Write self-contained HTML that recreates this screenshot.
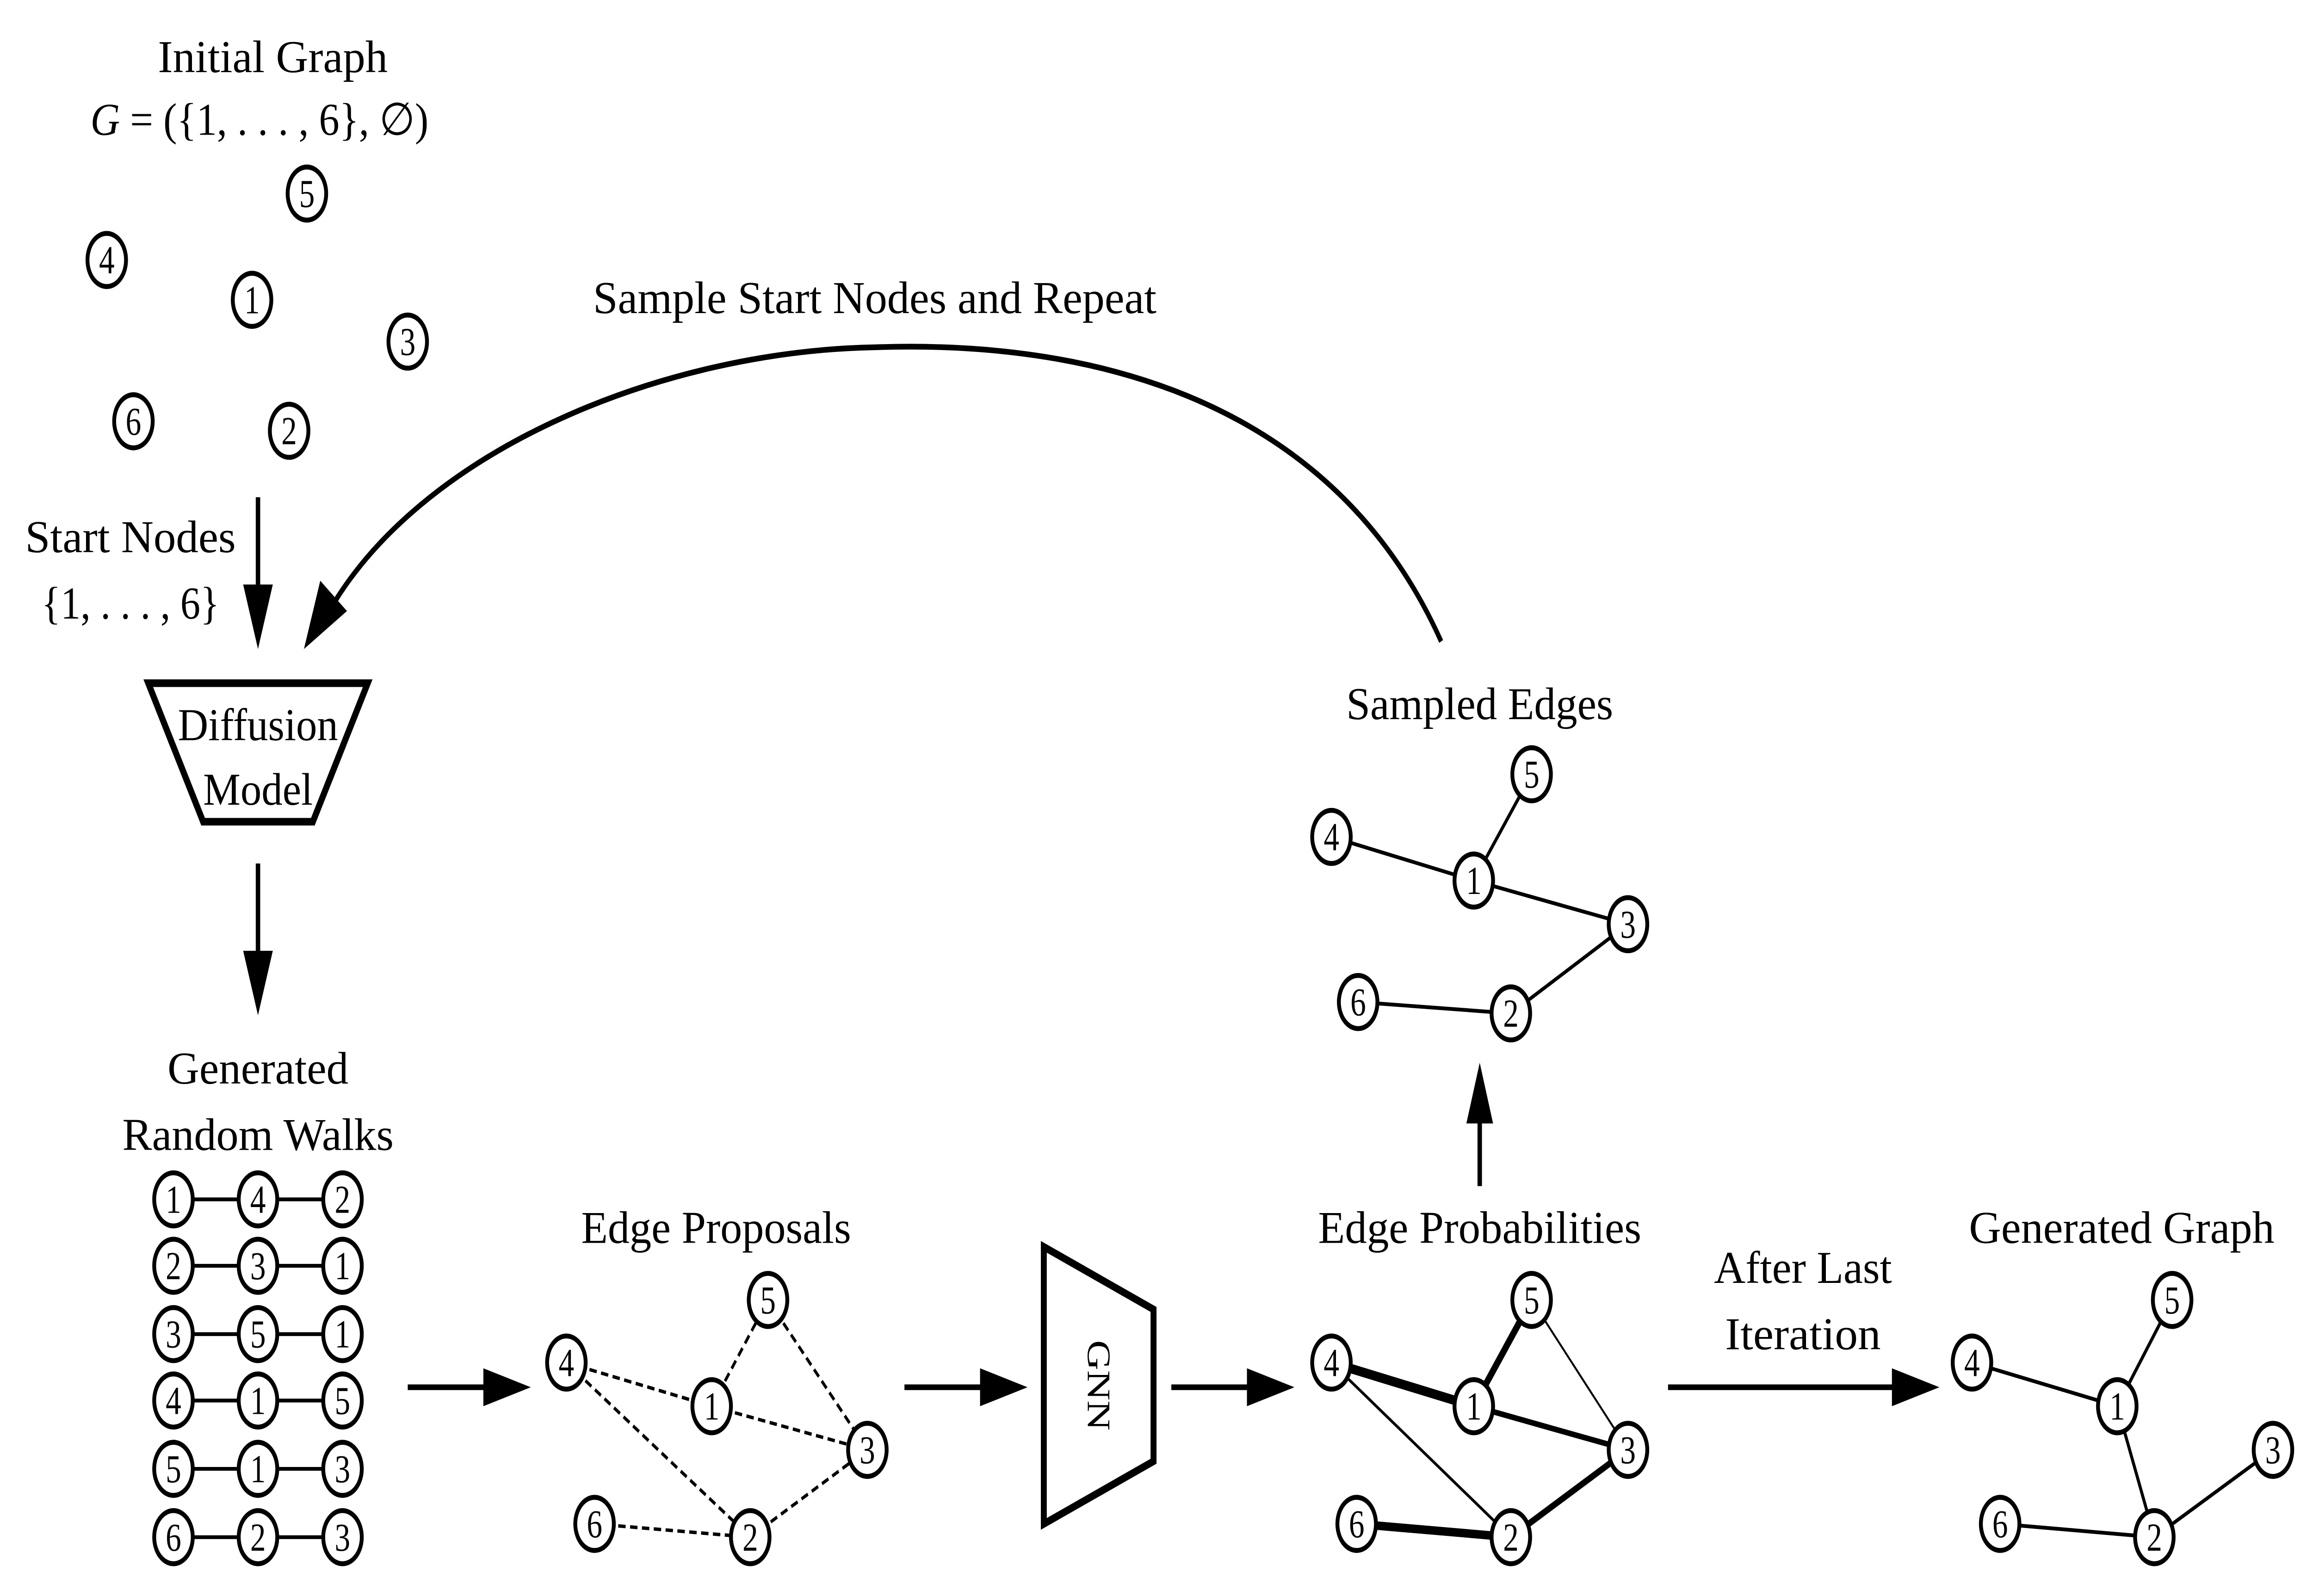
<!DOCTYPE html>
<html><head><meta charset="utf-8"><style>html,body{margin:0;padding:0;background:#fff;width:100%;height:100%;overflow:hidden}svg{display:block;width:100vw;height:100vh}</style></head>
<body>
<svg viewBox="0 0 1560 841" preserveAspectRatio="none" xmlns="http://www.w3.org/2000/svg" font-family="Liberation Serif, serif">
<style>
.n ellipse{fill:#fff;stroke:#000;stroke-width:2.6}
.n text{font-size:21px;text-anchor:middle;dominant-baseline:central}
.t{font-size:24px;text-anchor:middle}
.e{stroke:#000;stroke-width:2;fill:none}
.d{stroke:#000;stroke-width:1.8;stroke-dasharray:5,3;fill:none}
</style>

<text class="t" x="184" y="38" textLength="155" lengthAdjust="spacingAndGlyphs">Initial Graph</text>
<text class="t" x="175" y="71" textLength="228" lengthAdjust="spacingAndGlyphs"><tspan font-style="italic">G</tspan> = ({1, . . . , 6}, ∅)</text>
<text class="t" x="88" y="291" textLength="142" lengthAdjust="spacingAndGlyphs">Start Nodes</text>
<text class="t" x="88" y="326" textLength="120" lengthAdjust="spacingAndGlyphs">{1, . . . , 6}</text>
<text class="t" x="174" y="390" textLength="108" lengthAdjust="spacingAndGlyphs">Diffusion</text>
<text class="t" x="174" y="424" textLength="74" lengthAdjust="spacingAndGlyphs">Model</text>
<text class="t" x="174" y="571" textLength="122" lengthAdjust="spacingAndGlyphs">Generated</text>
<text class="t" x="174" y="606" textLength="183" lengthAdjust="spacingAndGlyphs">Random Walks</text>
<text class="t" x="483" y="655" textLength="182" lengthAdjust="spacingAndGlyphs">Edge Proposals</text>
<text class="t" x="998" y="655" textLength="218" lengthAdjust="spacingAndGlyphs">Edge Probabilities</text>
<text class="t" x="998" y="379" textLength="180" lengthAdjust="spacingAndGlyphs">Sampled Edges</text>
<text class="t" x="590" y="165" textLength="380" lengthAdjust="spacingAndGlyphs">Sample Start Nodes and Repeat</text>
<text class="t" x="1216" y="676" textLength="120" lengthAdjust="spacingAndGlyphs">After Last</text>
<text class="t" x="1216" y="711" textLength="105" lengthAdjust="spacingAndGlyphs">Iteration</text>
<text class="t" x="1431" y="655" textLength="206" lengthAdjust="spacingAndGlyphs">Generated Graph</text>

<g stroke="#000" stroke-width="3" fill="#000">
<line x1="174" y1="262" x2="174" y2="312"/><polygon points="164,308 184,308 174,342" stroke="none"/>
<line x1="174" y1="455" x2="174" y2="505"/><polygon points="164,501 184,501 174,535" stroke="none"/>
<line x1="275" y1="731" x2="330" y2="731"/><polygon points="326,721 326,741 358,731" stroke="none"/>
<line x1="610" y1="731" x2="665" y2="731"/><polygon points="661,721 661,741 693,731" stroke="none"/>
<line x1="790" y1="731" x2="845" y2="731"/><polygon points="841,721 841,741 873,731" stroke="none"/>
<line x1="1125" y1="731" x2="1280" y2="731"/><polygon points="1276,721 1276,741 1308,731" stroke="none"/>
<line x1="998" y1="625" x2="998" y2="588"/><polygon points="989,592 1007,592 998,560" stroke="none"/>
</g>
<path d="M972,338 C890,195 700,180 590,183 C450,185 290,235 225,318" stroke="#000" stroke-width="3" fill="none"/>
<polygon points="205,342 216,306 234,322" fill="#000"/>

<polygon points="100,360 248,360 211,433 137,433" fill="none" stroke="#000" stroke-width="4"/>
<polygon points="704,657 778,690 778,770 704,803" fill="none" stroke="#000" stroke-width="4"/>
<text transform="translate(741,730) rotate(90)" font-size="22" text-anchor="middle" dominant-baseline="central">GNN</text>

<g class="e">
<line x1="117" y1="632" x2="231" y2="632"/><line x1="117" y1="667" x2="231" y2="667"/>
<line x1="117" y1="703" x2="231" y2="703"/><line x1="117" y1="738" x2="231" y2="738"/>
<line x1="117" y1="774" x2="231" y2="774"/><line x1="117" y1="810" x2="231" y2="810"/>
</g>
<g class="d">
<line x1="382" y1="718" x2="480" y2="741"/><line x1="382" y1="718" x2="506" y2="810"/>
<line x1="480" y1="741" x2="518" y2="685"/><line x1="480" y1="741" x2="585" y2="764"/>
<line x1="518" y1="685" x2="585" y2="764"/><line x1="506" y1="810" x2="585" y2="764"/>
<line x1="401" y1="803" x2="506" y2="810"/>
</g>
<g stroke="#000" fill="none">
<line x1="898" y1="718" x2="994" y2="741" stroke-width="5"/>
<line x1="994" y1="741" x2="1033" y2="685" stroke-width="4"/>
<line x1="1033" y1="685" x2="1098" y2="764" stroke-width="1.2"/>
<line x1="994" y1="741" x2="1098" y2="764" stroke-width="3"/>
<line x1="898" y1="718" x2="1019" y2="810" stroke-width="1.6"/>
<line x1="915" y1="803" x2="1019" y2="810" stroke-width="4.5"/>
<line x1="1019" y1="810" x2="1098" y2="764" stroke-width="3.5"/>
</g>
<g class="e">
<line x1="898" y1="441" x2="994" y2="464"/><line x1="994" y1="464" x2="1033" y2="408"/>
<line x1="994" y1="464" x2="1098" y2="487"/><line x1="916" y1="528" x2="1019" y2="534"/>
<line x1="1019" y1="534" x2="1098" y2="487"/>
</g>
<g class="e">
<line x1="1330" y1="718" x2="1428" y2="741"/><line x1="1428" y1="741" x2="1465" y2="685"/>
<line x1="1428" y1="741" x2="1453" y2="810"/><line x1="1453" y1="810" x2="1533" y2="764"/>
<line x1="1349" y1="803" x2="1453" y2="810"/>
</g>

<g class="n">
<g transform="translate(207,102)"><ellipse rx="13" ry="14"/><text>5</text></g>
<g transform="translate(72,137)"><ellipse rx="13" ry="14"/><text>4</text></g>
<g transform="translate(170,158)"><ellipse rx="13" ry="14"/><text>1</text></g>
<g transform="translate(275,180)"><ellipse rx="13" ry="14"/><text>3</text></g>
<g transform="translate(90,222)"><ellipse rx="13" ry="14"/><text>6</text></g>
<g transform="translate(195,227)"><ellipse rx="13" ry="14"/><text>2</text></g>
<g transform="translate(117,632)"><ellipse rx="13" ry="14"/><text>1</text></g>
<g transform="translate(174,632)"><ellipse rx="13" ry="14"/><text>4</text></g>
<g transform="translate(231,632)"><ellipse rx="13" ry="14"/><text>2</text></g>
<g transform="translate(117,667)"><ellipse rx="13" ry="14"/><text>2</text></g>
<g transform="translate(174,667)"><ellipse rx="13" ry="14"/><text>3</text></g>
<g transform="translate(231,667)"><ellipse rx="13" ry="14"/><text>1</text></g>
<g transform="translate(117,703)"><ellipse rx="13" ry="14"/><text>3</text></g>
<g transform="translate(174,703)"><ellipse rx="13" ry="14"/><text>5</text></g>
<g transform="translate(231,703)"><ellipse rx="13" ry="14"/><text>1</text></g>
<g transform="translate(117,738)"><ellipse rx="13" ry="14"/><text>4</text></g>
<g transform="translate(174,738)"><ellipse rx="13" ry="14"/><text>1</text></g>
<g transform="translate(231,738)"><ellipse rx="13" ry="14"/><text>5</text></g>
<g transform="translate(117,774)"><ellipse rx="13" ry="14"/><text>5</text></g>
<g transform="translate(174,774)"><ellipse rx="13" ry="14"/><text>1</text></g>
<g transform="translate(231,774)"><ellipse rx="13" ry="14"/><text>3</text></g>
<g transform="translate(117,810)"><ellipse rx="13" ry="14"/><text>6</text></g>
<g transform="translate(174,810)"><ellipse rx="13" ry="14"/><text>2</text></g>
<g transform="translate(231,810)"><ellipse rx="13" ry="14"/><text>3</text></g>
<g transform="translate(518,685)"><ellipse rx="13" ry="14"/><text>5</text></g>
<g transform="translate(382,718)"><ellipse rx="13" ry="14"/><text>4</text></g>
<g transform="translate(480,741)"><ellipse rx="13" ry="14"/><text>1</text></g>
<g transform="translate(585,764)"><ellipse rx="13" ry="14"/><text>3</text></g>
<g transform="translate(401,803)"><ellipse rx="13" ry="14"/><text>6</text></g>
<g transform="translate(506,810)"><ellipse rx="13" ry="14"/><text>2</text></g>
<g transform="translate(1033,685)"><ellipse rx="13" ry="14"/><text>5</text></g>
<g transform="translate(898,718)"><ellipse rx="13" ry="14"/><text>4</text></g>
<g transform="translate(994,741)"><ellipse rx="13" ry="14"/><text>1</text></g>
<g transform="translate(1098,764)"><ellipse rx="13" ry="14"/><text>3</text></g>
<g transform="translate(915,803)"><ellipse rx="13" ry="14"/><text>6</text></g>
<g transform="translate(1019,810)"><ellipse rx="13" ry="14"/><text>2</text></g>
<g transform="translate(1033,408)"><ellipse rx="13" ry="14"/><text>5</text></g>
<g transform="translate(898,441)"><ellipse rx="13" ry="14"/><text>4</text></g>
<g transform="translate(994,464)"><ellipse rx="13" ry="14"/><text>1</text></g>
<g transform="translate(1098,487)"><ellipse rx="13" ry="14"/><text>3</text></g>
<g transform="translate(916,528)"><ellipse rx="13" ry="14"/><text>6</text></g>
<g transform="translate(1019,534)"><ellipse rx="13" ry="14"/><text>2</text></g>
<g transform="translate(1465,685)"><ellipse rx="13" ry="14"/><text>5</text></g>
<g transform="translate(1330,718)"><ellipse rx="13" ry="14"/><text>4</text></g>
<g transform="translate(1428,741)"><ellipse rx="13" ry="14"/><text>1</text></g>
<g transform="translate(1533,764)"><ellipse rx="13" ry="14"/><text>3</text></g>
<g transform="translate(1349,803)"><ellipse rx="13" ry="14"/><text>6</text></g>
<g transform="translate(1453,810)"><ellipse rx="13" ry="14"/><text>2</text></g>
</g>
</svg>
</body></html>
